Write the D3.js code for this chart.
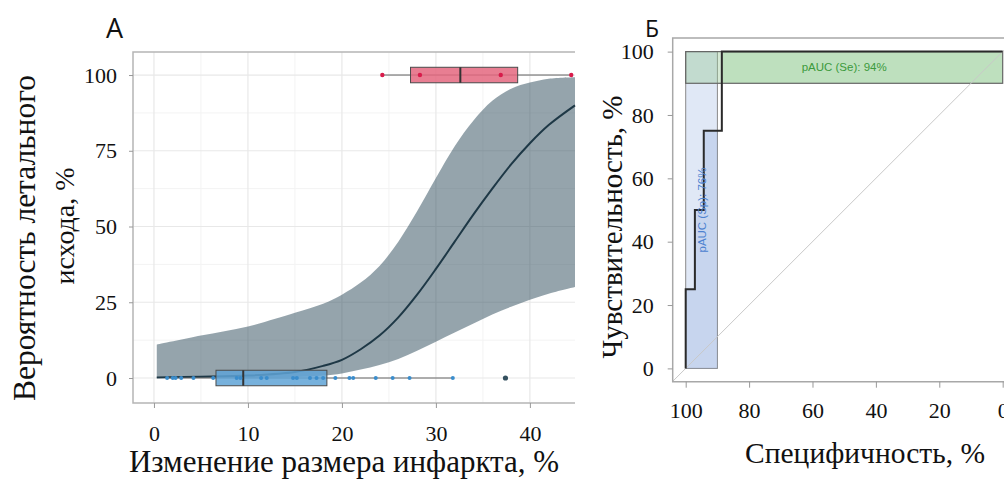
<!DOCTYPE html>
<html>
<head>
<meta charset="utf-8">
<script src="https://cdn.jsdelivr.net/npm/d3@7/dist/d3.min.js"></script>
<style>
  body { margin: 0; background: #fff; }
  svg { display: block; }
</style>
</head>
<body>
<svg id="chart"></svg>
<script>
// ---------- panel A: logistic fit with CI band ----------
const fitX   = [0.3, 5, 10, 15, 18, 20, 22, 24, 26, 28, 30, 32, 34, 36, 38, 40, 42, 44.8];
const fitP   = [0.2, 0.4, 0.8, 2, 4, 6, 9.5, 14, 20, 27.5, 36, 45, 54, 62.5, 70.5, 77.5, 83.5, 90];
const ciLow  = [0, 0, 0.1, 0.3, 0.8, 1.5, 2.8, 4.3, 6.3, 9, 12, 15, 18, 21, 23.5, 25.8, 27.8, 30];
const ciHigh = [11, 14, 17, 21.5, 24.5, 27.5, 31.5, 37, 45, 55, 66, 76.5, 85, 91.5, 95.5, 97.5, 98.8, 99.3];

// survivors (outcome 0) and deaths (outcome 1)
const survivorX = [1.4, 2.0, 2.3, 2.9, 4.2, 6.3, 8.8, 9.2, 11.4, 12.0, 14.8, 15.2, 16.6, 17.3, 18.0,
                   19.3, 20.8, 21.2, 23.6, 25.4, 27.2, 31.8];
const survivorOutlier = [37.4];
const survivorBox = [1.4, 6.6, 9.5, 18.4, 31.8];   // min, q1, median, q3, max
const deathX = [24.3, 28.3, 36.9, 44.4];
const deathBox = [24.3, 27.3, 32.6, 38.7, 44.4];

const xTicksA = [0, 10, 20, 30, 40];
const xMinorA = [5, 15, 25, 35];
const yTicksA = [0, 25, 50, 75, 100];
const yMinorA = [12.5, 37.5, 62.5, 87.5];

// ---------- panel Б: ROC curve ----------
const rocSpec = [100, 100, 97.1, 97.1, 94.3, 94.3, 88.6, 88.6, 0];
const rocSens = [0, 25, 25, 50, 50, 75, 75, 100, 100];
const spRange = [100, 90];   // partial AUC by specificity
const seRange = [90, 100];   // partial AUC by sensitivity
const pAucSpLabel = "pAUC (Sp): 76%";
const pAucSeLabel = "pAUC (Se): 94%";
const xTicksB = [100, 80, 60, 40, 20, 0];
const yTicksB = [0, 20, 40, 60, 80, 100];

const W = 1004, H = 480;
const serif = "'Liberation Serif', 'Times New Roman', serif";
const sans = "'Open Sans', 'Noto Sans', sans-serif";
const small = "'Liberation Sans', Arial, sans-serif";

const svg = d3.select("#chart").attr("width", W).attr("height", H);
svg.append("rect").attr("width", W).attr("height", H).attr("fill", "#fff");

// ======================= Panel A =======================
const A = { left: 133, right: 575, top: 52, bottom: 403 };
const xA = d3.scaleLinear().domain([-2.23, 44.8]).range([A.left, A.right]);
const yA = d3.scaleLinear().domain([-8.25, 107.6]).range([A.bottom, A.top]);

const gA = svg.append("g");

// grid
gA.selectAll(".vminor").data(xMinorA).join("line")
  .attr("x1", d => xA(d)).attr("x2", d => xA(d))
  .attr("y1", A.top).attr("y2", A.bottom)
  .attr("stroke", "#f3f3f3").attr("stroke-width", 1);
gA.selectAll(".hminor").data(yMinorA).join("line")
  .attr("x1", A.left).attr("x2", A.right)
  .attr("y1", d => yA(d)).attr("y2", d => yA(d))
  .attr("stroke", "#f3f3f3").attr("stroke-width", 1);
gA.selectAll(".vmajor").data(xTicksA).join("line")
  .attr("x1", d => xA(d)).attr("x2", d => xA(d))
  .attr("y1", A.top).attr("y2", A.bottom)
  .attr("stroke", "#e8e8e8").attr("stroke-width", 1.2);
gA.selectAll(".hmajor").data(yTicksA).join("line")
  .attr("x1", A.left).attr("x2", A.right)
  .attr("y1", d => yA(d)).attr("y2", d => yA(d))
  .attr("stroke", "#e8e8e8").attr("stroke-width", 1.2);

// confidence band
const fit = fitX.map((x, i) => ({ x, p: fitP[i], lo: ciLow[i], hi: ciHigh[i] }));
gA.append("path")
  .datum(fit)
  .attr("fill", "#34505f")
  .attr("fill-opacity", 0.52)
  .attr("d", d3.area().curve(d3.curveCatmullRom.alpha(0.5))
    .x(d => xA(d.x)).y0(d => yA(d.lo)).y1(d => yA(d.hi)));

gA.append("path")
  .datum(fit)
  .attr("fill", "none")
  .attr("stroke", "#1e3846")
  .attr("stroke-width", 2)
  .attr("d", d3.line().curve(d3.curveCatmullRom.alpha(0.5)).x(d => xA(d.x)).y(d => yA(d.p)));

// boxplots
function drawBox(stats, yVal, fill) {
  const [mn, q1, med, q3, mx] = stats;
  const yc = yA(yVal), h = 15.5;
  gA.append("line")
    .attr("x1", xA(mn)).attr("x2", xA(mx)).attr("y1", yc).attr("y2", yc)
    .attr("stroke", "#666").attr("stroke-width", 1);
  gA.append("rect")
    .attr("x", xA(q1)).attr("y", yc - h / 2)
    .attr("width", xA(q3) - xA(q1)).attr("height", h)
    .attr("fill", fill).attr("fill-opacity", 0.85)
    .attr("stroke", "#4a4a4a").attr("stroke-width", 1);
  gA.append("line")
    .attr("x1", xA(med)).attr("x2", xA(med))
    .attr("y1", yc - h / 2).attr("y2", yc + h / 2)
    .attr("stroke", "#333").attr("stroke-width", 2);
}
drawBox(survivorBox, 0, "#5fa3d6");
drawBox(deathBox, 100, "#e4677f");

gA.selectAll(".spt").data(survivorX).join("circle")
  .attr("cx", d => xA(d)).attr("cy", yA(0)).attr("r", 2)
  .attr("fill", "#3b8dcc");
gA.selectAll(".sout").data(survivorOutlier).join("circle")
  .attr("cx", d => xA(d)).attr("cy", yA(0)).attr("r", 2.6)
  .attr("fill", "#34505f");
gA.selectAll(".dpt").data(deathX).join("circle")
  .attr("cx", d => xA(d)).attr("cy", yA(100)).attr("r", 2.2)
  .attr("fill", "#d81b4a");

// frame
gA.append("path")
  .attr("d", `M${A.right},${A.top}H${A.left}V${A.bottom}H${A.right}`)
  .attr("fill", "none").attr("stroke", "#b5b5b5").attr("stroke-width", 1.5);

// axes
const axAx = gA.append("g").attr("transform", `translate(0,${A.bottom})`)
  .call(d3.axisBottom(xA).tickValues(xTicksA).tickSize(5).tickPadding(17));
const axAy = gA.append("g").attr("transform", `translate(${A.left},0)`)
  .call(d3.axisLeft(yA).tickValues(yTicksA).tickSize(4).tickPadding(12));
[axAx, axAy].forEach(g => {
  g.select(".domain").remove();
  g.selectAll(".tick line").attr("stroke", "#999");
  g.selectAll(".tick text").attr("font-family", serif).attr("font-size", 22).attr("fill", "#111");
});

// titles
svg.append("text")
  .attr("x", 344).attr("y", 472)
  .attr("text-anchor", "middle")
  .attr("font-family", serif).attr("font-size", 31).attr("fill", "#111")
  .text("Изменение размера инфаркта, %");
svg.append("text")
  .attr("transform", "translate(35,238) rotate(-90)")
  .attr("text-anchor", "middle")
  .attr("font-family", serif).attr("font-size", 31.5).attr("fill", "#111")
  .text("Вероятность летального");
svg.append("text")
  .attr("transform", "translate(74,226) rotate(-90)")
  .attr("text-anchor", "middle")
  .attr("font-family", serif).attr("font-size", 28).attr("fill", "#111")
  .text("исхода, %");
svg.append("text")
  .attr("x", 106).attr("y", 38)
  .attr("font-family", sans).attr("font-size", 27).attr("fill", "#111")
  .text("А");

// ======================= Panel Б =======================
const B = { left: 672.7, right: 1016, top: 38, bottom: 381.7 };
const xB = d3.scaleLinear().domain([104.1, -4.2]).range([B.left, B.right]);
const yB = d3.scaleLinear().domain([-4.2, 104.3]).range([B.bottom, B.top]);

const gB = svg.append("g");
const roc = rocSpec.map((s, i) => ({ s, e: rocSens[i] }));
const poly = d3.line().x(d => xB(d.s)).y(d => yB(d.e));

// curve sensitivity at the lower specificity limit, and specificity at the lower sensitivity limit
const spLo = spRange[1];
const sensAtSpLo = d3.max(roc.filter(d => d.s >= spLo), d => d.e);
const seLo = seRange[0];
const specAtSeLo = d3.min(roc.filter(d => d.e <= seLo), d => d.s);

// max-region rectangle (Sp)
gB.append("rect")
  .attr("x", xB(spRange[0])).attr("y", yB(100))
  .attr("width", xB(spRange[1]) - xB(spRange[0])).attr("height", yB(0) - yB(100))
  .attr("fill", "rgb(100,140,210)").attr("fill-opacity", 0.2)
  .attr("stroke", "#8a8a8a").attr("stroke-width", 1);

// pAUC (Sp) area under curve
const spArea = roc.filter(d => d.s >= spLo).concat([{ s: spLo, e: sensAtSpLo }, { s: spLo, e: 0 }]);
gB.append("path")
  .attr("d", poly(spArea) + "Z")
  .attr("fill", "rgb(100,140,210)").attr("fill-opacity", 0.2);

// max-region rectangle (Se)
gB.append("rect")
  .attr("x", xB(100)).attr("y", yB(seRange[1]))
  .attr("width", xB(0) - xB(100)).attr("height", yB(seRange[0]) - yB(seRange[1]))
  .attr("fill", "rgb(150,200,150)").attr("fill-opacity", 0.4);

// pAUC (Se) area right of curve
const seArea = [{ s: specAtSeLo, e: seLo }, { s: specAtSeLo, e: 100 }, { s: 0, e: 100 }, { s: 0, e: seLo }];
gB.append("path")
  .attr("d", poly(seArea) + "Z")
  .attr("fill", "rgb(150,210,150)").attr("fill-opacity", 0.35);

gB.append("rect")
  .attr("x", xB(100)).attr("y", yB(seRange[1]))
  .attr("width", xB(0) - xB(100)).attr("height", yB(seRange[0]) - yB(seRange[1]))
  .attr("fill", "none").attr("stroke", "#666").attr("stroke-width", 1.2);

// chance diagonal
gB.append("line")
  .attr("x1", xB(104.1)).attr("y1", yB(100 - 104.1))
  .attr("x2", xB(-4.2)).attr("y2", yB(104.2))
  .attr("stroke", "#c8c8c8").attr("stroke-width", 1);

// ROC curve
gB.append("path")
  .datum(roc)
  .attr("fill", "none")
  .attr("stroke", "#2a2a2a").attr("stroke-width", 2)
  .attr("d", poly);

// labels
gB.append("text")
  .attr("x", xB(50)).attr("y", yB(95)).attr("dy", "0.35em")
  .attr("text-anchor", "middle")
  .attr("font-family", small).attr("font-size", 11.5)
  .attr("fill", "#3c9a3c")
  .text(pAucSeLabel);
gB.append("text")
  .attr("transform", `translate(${xB(95)},${yB(50)}) rotate(-90)`)
  .attr("dy", "0.35em")
  .attr("text-anchor", "middle")
  .attr("font-family", small).attr("font-size", 11.5)
  .attr("fill", "#4d82d0")
  .text(pAucSpLabel);

// frame
gB.append("path")
  .attr("d", `M${B.right},${B.top}H${B.left}V${B.bottom}H${B.right}`)
  .attr("fill", "none").attr("stroke", "#a8a8a8").attr("stroke-width", 1.5);

const axBx = gB.append("g").attr("transform", `translate(0,${B.bottom})`)
  .call(d3.axisBottom(xB).tickValues(xTicksB).tickSize(6).tickPadding(15));
const axBy = gB.append("g").attr("transform", `translate(${B.left},0)`)
  .call(d3.axisLeft(yB).tickValues(yTicksB).tickSize(5).tickPadding(14));
[axBx, axBy].forEach(g => {
  g.select(".domain").remove();
  g.selectAll(".tick line").attr("stroke", "#999");
  g.selectAll(".tick text").attr("font-family", serif).attr("font-size", 22).attr("fill", "#111");
});

svg.append("text")
  .attr("x", 865).attr("y", 463)
  .attr("text-anchor", "middle")
  .attr("font-family", serif).attr("font-size", 29.5).attr("fill", "#111")
  .text("Специфичность, %");
svg.append("text")
  .attr("transform", "translate(622,227) rotate(-90)")
  .attr("text-anchor", "middle")
  .attr("font-family", serif).attr("font-size", 29).attr("fill", "#111")
  .text("Чувствительность, %");
svg.append("text")
  .attr("x", 645).attr("y", 37)
  .attr("font-family", sans).attr("font-size", 23).attr("fill", "#111")
  .text("Б");
</script>
</body>
</html>
